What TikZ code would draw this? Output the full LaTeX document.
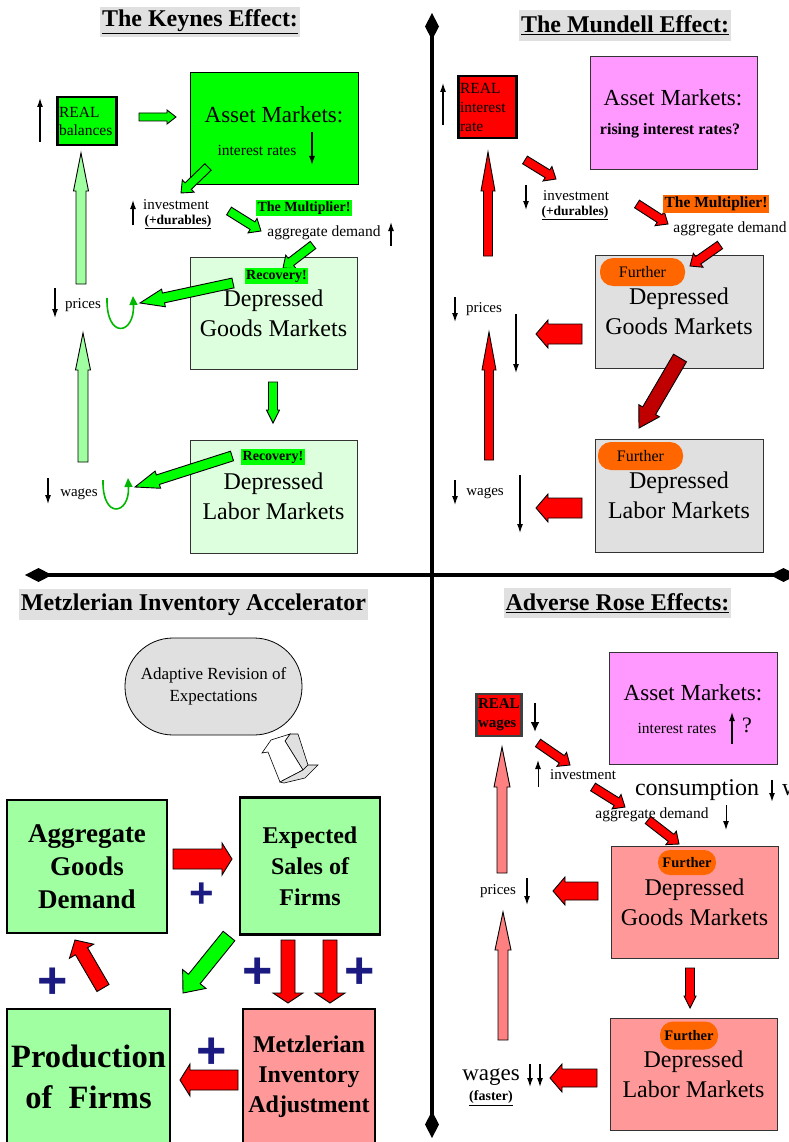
\documentclass[tikz,border=0pt]{standalone}
\usepackage{fontspec}
\setmainfont{Liberation Serif}
\setsansfont{Liberation Sans}
\usetikzlibrary{arrows.meta, calc, positioning}
\definecolor{keynesgreen}{HTML}{00FF00}
\definecolor{palegreen}{HTML}{DDFFDD}
\definecolor{softgreen}{HTML}{A0FFA0}
\definecolor{loopgreen}{HTML}{00B800}
\definecolor{deepred}{HTML}{C00000}
\definecolor{assetpink}{HTML}{FF99FF}
\definecolor{rosepink}{HTML}{FF9999}
\definecolor{salmon}{HTML}{FF8080}
\definecolor{furtherorange}{HTML}{FF6600}
\definecolor{titlegray}{HTML}{E0E0E0}
\definecolor{plusblue}{HTML}{1A1A80}

% block arrow: [style] {from} {to} {shaft half width} {head half width} {head length}
\newcommand{\blockarrow}[6][]{%
  \draw[barrow, #1] ($#2!#4!90:#3$) -- ($($#3!#6!#2$)!#4!-90:#2$) -- ($($#3!#6!#2$)!#5!-90:#2$) -- #3
    -- ($($#3!#6!#2$)!#5!90:#2$) -- ($($#3!#6!#2$)!#4!90:#2$) -- ($#2!#4!-90:#3$) -- cycle;}

\begin{document}
\begin{tikzpicture}[x=1pt, y=-1pt,
  heading/.style={fill=titlegray, inner xsep=2pt, inner ysep=0pt, minimum height=30pt, font=\fontsize{24}{28}\selectfont\bfseries},
  market/.style={draw=black!80, line width=1pt, minimum width=167pt, minimum height=112pt, inner sep=0pt, align=center, font=\fontsize{24}{30}\selectfont},
  realbox/.style={draw=black, line width=2.5pt, fill=red, inner xsep=1.5pt, inner ysep=0pt, align=left},
  metzbox/.style={draw=black, line width=2.5pt, fill=softgreen, inner sep=0pt, align=center},
  flag/.style={inner xsep=1.5pt, inner ysep=1.5pt, font=\fontsize{14}{16}\selectfont\bfseries},
  further/.style={fill=furtherorange, rounded corners=13pt, minimum width=85pt, minimum height=28pt, inner sep=0pt, font=\fontsize{16}{18}\selectfont},
  smalltext/.style={inner sep=0pt, font=\fontsize{15.5}{17}\selectfont},
  plussign/.style={text=plusblue, inner sep=0pt, font=\fontsize{52}{52}\selectfont\sffamily\bfseries},
  trend/.style={line width=1.2pt, -{Latex[length=9pt,width=6pt]}},
  barrow/.style={draw=black, line width=0.9pt},
  loopback/.style={draw=loopgreen, line width=1.6pt, -{Triangle[length=9pt,width=8pt]}},
  quadaxis/.style={line width=4pt, {Diamond[length=27pt,width=14pt]}-{Diamond[length=27pt,width=14pt]}}]
\useasboundingbox (0,0) rectangle (788,1142);

% quadrant axes
\coordinate (axtop) at (432,13);
\coordinate (axbot) at (432,1138);
\coordinate (axleft) at (25,575);
\coordinate (axright) at (797,575);
\draw[quadaxis] (axtop) -- (axbot);
\draw[quadaxis] (axleft) -- (axright);

% Keynes effect
\node (keynesT) [heading] at (200,22) {\underline{The Keynes Effect:}};
\node (assetK) [market, draw=black, fill=keynesgreen, minimum width=168pt] at (274,129) {};
\node (goodsK) [market, fill=palegreen] at (273.5,313) {Depressed\\Goods Markets};
\node (laborK) [market, fill=palegreen, minimum height=113pt] at (273.5,496.5) {Depressed\\Labor Markets};
\node (realK) [realbox, fill=keynesgreen, text width=56pt, minimum height=48pt, font=\fontsize{15.5}{18}\selectfont] at (87,121) {REAL\\balances};
\node (assetKt) [inner sep=0pt, font=\fontsize{23}{27}\selectfont] at (274,115) {Asset Markets:};
\node (rateK) [smalltext] at (257,150) {interest rates};
\node (invK) [smalltext, font=\fontsize{15}{17}\selectfont] at (176,205) {investment};
\node (durK) [inner sep=0pt, font=\fontsize{13.5}{15}\selectfont\bfseries] at (178,222) {\underline{(+durables)}};
\node (adK) [smalltext] at (324,233) {aggregate demand};
\node (priceK) [smalltext, font=\fontsize{15}{17}\selectfont] at (83,305) {prices};
\node (wageK) [smalltext, font=\fontsize{15}{17}\selectfont] at (79,494) {wages};
\draw[trend] (40,142) -- (40,98);
\draw[trend] (312,132) -- (312,165);
\draw[trend] (133,225) -- (133,200);
\draw[trend] (391,246) -- (391,222);
\draw[trend] (55,288) -- (55,318);
\draw[trend] (48,478) -- (48,504);
\coordinate (k1s) at (139,117); \coordinate (k1e) at (176,117);
\coordinate (k2s) at (208,167); \coordinate (k2e) at (181,193);
\coordinate (k3s) at (229,211); \coordinate (k3e) at (261,231);
\coordinate (k4s) at (313,245); \coordinate (k4e) at (283,268);
\coordinate (k5s) at (233,283); \coordinate (k5e) at (140,303);
\coordinate (k6s) at (273,382); \coordinate (k6e) at (273,423);
\coordinate (k7s) at (232,456); \coordinate (k7e) at (135,487);
\coordinate (ku1s) at (81,284); \coordinate (ku1e) at (81,153);
\coordinate (ku2s) at (83,462); \coordinate (ku2e) at (83,333);
\blockarrow[fill=keynesgreen]{(k1s)}{(k1e)}{4pt}{7pt}{9pt}
\blockarrow[fill=keynesgreen]{(k2s)}{(k2e)}{4.5pt}{8.5pt}{10pt}
\blockarrow[fill=keynesgreen]{(k3s)}{(k3e)}{4.5pt}{8.5pt}{10pt}
\blockarrow[fill=keynesgreen]{(k4s)}{(k4e)}{4.5pt}{8.5pt}{10pt}
\blockarrow[fill=keynesgreen]{(k5s)}{(k5e)}{5pt}{9pt}{24pt}
\blockarrow[fill=keynesgreen]{(k6s)}{(k6e)}{4.5pt}{6.5pt}{13pt}
\blockarrow[fill=keynesgreen]{(k7s)}{(k7e)}{5pt}{9pt}{24pt}
\blockarrow[fill=softgreen]{(ku1s)}{(ku1e)}{5pt}{7.5pt}{38pt}
\blockarrow[fill=softgreen]{(ku2s)}{(ku2e)}{5pt}{7.5pt}{37pt}
\draw[loopback] (107,298) .. controls (106,340) and (135,335) .. (133,296);
\draw[loopback] (103,480) .. controls (102,520) and (130,515) .. (128,478);
\node (multK) [flag, fill=keynesgreen] at (304,208) {The Multiplier!};
\node (recG) [flag, fill=keynesgreen] at (276.5,276) {Recovery!};
\node (recL) [flag, fill=keynesgreen] at (273,457) {Recovery!};

% Mundell effect
\node (mundellT) [heading, minimum height=31pt] at (625,25.5) {\underline{The Mundell Effect:}};
\node (assetM) [market, fill=assetpink, minimum height=113pt] at (673.5,113.5) {};
\node (goodsM) [market, fill=titlegray, minimum width=168pt, minimum height=113pt] at (679,311.5) {Depressed\\Goods Markets};
\node (laborM) [market, fill=titlegray, minimum width=168pt, minimum height=113pt] at (679,495.5) {Depressed\\Labor Markets};
\node (realM) [realbox, text width=55pt, minimum height=62pt, font=\fontsize{15.5}{19}\selectfont] at (487.5,107) {REAL\\interest\\rate};
\node (assetMt) [inner sep=0pt, font=\fontsize{23}{27}\selectfont] at (673,98) {Asset Markets:};
\node (riseM) [inner sep=0pt, font=\fontsize{16}{18}\selectfont\bfseries] at (670,131) {rising interest rates?};
\node (invM) [smalltext, font=\fontsize{15}{17}\selectfont] at (576,196) {investment};
\node (durM) [inner sep=0pt, font=\fontsize{13.5}{15}\selectfont\bfseries] at (575,213) {\underline{(+durables)}};
\node (adM) [smalltext] at (730,229) {aggregate demand};
\node (priceM) [smalltext, font=\fontsize{15}{17}\selectfont] at (484,309) {prices};
\node (wageM) [smalltext, font=\fontsize{15}{17}\selectfont] at (485,493) {wages};
\draw[trend] (443,125) -- (443,83);
\draw[trend] (526,185) -- (526,210);
\draw[trend] (455,297) -- (455,322);
\draw[trend] (516,314) -- (516,373);
\draw[trend] (455,480) -- (455,505);
\draw[trend] (520,475) -- (520,533);
\coordinate (m1s) at (525,160); \coordinate (m1e) at (556,179);
\coordinate (m2s) at (637,204); \coordinate (m2e) at (668,224);
\coordinate (m3s) at (720,245); \coordinate (m3e) at (690,266);
\coordinate (m4s) at (582,334); \coordinate (m4e) at (536,334);
\coordinate (m5s) at (582,508); \coordinate (m5e) at (536,508);
\coordinate (m6s) at (680,358); \coordinate (m6e) at (639,428);
\coordinate (mu1s) at (488,256); \coordinate (mu1e) at (488,152);
\coordinate (mu2s) at (489,460); \coordinate (mu2e) at (489,332);
\blockarrow[fill=red]{(m1s)}{(m1e)}{4.5pt}{8.5pt}{10pt}
\blockarrow[fill=red]{(m2s)}{(m2e)}{4.5pt}{8.5pt}{10pt}
\blockarrow[fill=red]{(m3s)}{(m3e)}{4.5pt}{8.5pt}{10pt}
\blockarrow[fill=red]{(m4s)}{(m4e)}{10pt}{14pt}{12pt}
\blockarrow[fill=red]{(m5s)}{(m5e)}{10pt}{14pt}{12pt}
\blockarrow[fill=deepred]{(m6s)}{(m6e)}{7.5pt}{12pt}{20pt}
\blockarrow[fill=red]{(mu1s)}{(mu1e)}{4.5pt}{7pt}{39pt}
\blockarrow[fill=red]{(mu2s)}{(mu2e)}{4.5pt}{7pt}{38pt}
\node (multM) [flag, fill=furtherorange, font=\fontsize{15.5}{17}\selectfont\bfseries] at (716,204) {The Multiplier!};
\node (furGM) [further] at (642.5,272) {Further};
\node (furLM) [further] at (640.5,456) {Further};

% Metzlerian inventory accelerator
\node (metzT) [heading, fill=titlegray, minimum height=31pt] at (193.5,604.5) {Metzlerian Inventory Accelerator};
\node (adapt) [draw=black, line width=0.8pt, fill=titlegray, rounded corners=48pt, minimum width=177pt, minimum height=97pt, inner sep=0pt, align=center, font=\fontsize{17}{22}\selectfont] at (213.5,686.5) {Adaptive Revision of\\Expectations};
\node (aggGD) [metzbox, minimum width=160pt, minimum height=133pt, font=\fontsize{27}{33}\selectfont\bfseries] at (87,866.5) {Aggregate\\Goods\\Demand};
\node (expS) [metzbox, minimum width=140pt, minimum height=137pt, font=\fontsize{24}{31}\selectfont\bfseries] at (310,866) {Expected\\Sales of\\Firms};
\node (prodF) [metzbox, minimum width=163pt, minimum height=136pt, font=\fontsize{32.5}{41}\selectfont\bfseries] at (88.5,1077) {Production\\of~~Firms};
\node (metzI) [metzbox, fill=rosepink, minimum width=132pt, minimum height=136pt, font=\fontsize{24}{30}\selectfont\bfseries] at (309,1077) {Metzlerian\\Inventory\\Adjustment};
% hollow 3D arrow below the expectations bubble
\filldraw[fill=titlegray, draw=black, line width=0.6pt] (285,741) -- (290,734) -- (298,734) -- (308,765) -- (303,770) -- cycle;
\filldraw[fill=white, draw=black, line width=0.6pt] (262,753) -- (271,740) -- (290,734) -- (285,741) -- (303,770) -- (280,782) -- (268,752) -- cycle;
\filldraw[fill=titlegray, draw=black, line width=0.6pt] (280,782) -- (303,770) -- (308,765) -- (318,765) -- (305,778) -- (284,783) -- cycle;
\coordinate (z1s) at (173,859); \coordinate (z1e) at (232,859);
\coordinate (z2s) at (229,936); \coordinate (z2e) at (183,993);
\coordinate (z3s) at (103,988); \coordinate (z3e) at (75,940);
\coordinate (z4s) at (288,940); \coordinate (z4e) at (288,1003);
\coordinate (z5s) at (330,940); \coordinate (z5e) at (330,1003);
\coordinate (z6s) at (238,1080); \coordinate (z6e) at (180,1080);
\blockarrow[fill=red]{(z1s)}{(z1e)}{10pt}{16pt}{10pt}
\blockarrow[fill=keynesgreen]{(z2s)}{(z2e)}{7.5pt}{15pt}{18pt}
\blockarrow[fill=red]{(z3s)}{(z3e)}{7pt}{14pt}{13pt}
\blockarrow[fill=red]{(z4s)}{(z4e)}{7pt}{15pt}{10pt}
\blockarrow[fill=red]{(z5s)}{(z5e)}{7pt}{15pt}{10pt}
\blockarrow[fill=red]{(z6s)}{(z6e)}{10pt}{16pt}{10pt}
\node (plus1) [plussign, font=\fontsize{42}{42}\selectfont\sffamily\bfseries] at (202,895) {+};
\node (plus2) [plussign] at (53,983) {+};
\node (plus3) [plussign] at (258,973) {+};
\node (plus4) [plussign] at (360,973) {+};
\node (plus5) [plussign] at (212,1053) {+};

% Adverse Rose effects
\node (roseT) [heading] at (617.5,603) {\underline{Adverse Rose Effects:}};
\node (assetR) [market, fill=assetpink, minimum width=168pt] at (693,708) {};
\node (goodsR) [market, fill=rosepink] at (694.5,902) {Depressed\\Goods Markets};
\node (laborR) [market, fill=rosepink] at (693.5,1074) {Depressed\\Labor Markets};
\node (realR) [realbox, draw=black!75, text width=42pt, minimum height=42pt, font=\fontsize{15}{19}\selectfont\bfseries] at (499,715) {REAL\\wages};
\node (assetRt) [inner sep=0pt, font=\fontsize{23}{27}\selectfont] at (693,693) {Asset Markets:};
\node (rateR) [smalltext] at (677,728) {interest rates};
\node (askR) [inner sep=0pt, font=\fontsize{22}{24}\selectfont] at (747,725) {?};
\node (invR) [smalltext, font=\fontsize{15}{17}\selectfont] at (583,775) {investment};
\node (consR) [inner sep=0pt, font=\fontsize{24}{28}\selectfont] at (697,790) {consumption};
\node (wealthR) [inner sep=0pt, anchor=west, font=\fontsize{24}{28}\selectfont] at (782,790) {w};
\node (adR) [smalltext] at (652,815) {aggregate demand};
\node (priceR) [smalltext, font=\fontsize{15}{17}\selectfont] at (498,891) {prices};
\node (wageR) [inner sep=0pt, font=\fontsize{23}{26}\selectfont] at (491,1077) {wages};
\node (fastR) [inner sep=0pt, font=\fontsize{14}{16}\selectfont\bfseries] at (491,1098) {\underline{(faster)}};
\draw[trend, line width=2.5pt, -{Latex[length=10pt,width=9pt]}] (535,703) -- (535,732);
\draw[trend, line width=1pt] (538,787) -- (538,760);
\draw[trend] (732,744) -- (732,712);
\draw[trend, line width=1.5pt] (772,780) -- (772,802);
\draw[trend, line width=1pt] (726,805) -- (726,830);
\draw[trend] (527,878) -- (527,905);
\draw[trend] (530,1064) -- (530,1087);
\draw[trend] (540,1064) -- (540,1087);
\coordinate (r1s) at (538,743); \coordinate (r1e) at (570,765);
\coordinate (r2s) at (593,787); \coordinate (r2e) at (625,807);
\coordinate (r3s) at (648,820); \coordinate (r3e) at (679,844);
\coordinate (r4s) at (598,891); \coordinate (r4e) at (553,891);
\coordinate (r5s) at (597,1078); \coordinate (r5e) at (550,1078);
\coordinate (r6s) at (690,968); \coordinate (r6e) at (690,1008);
\coordinate (ru1s) at (502,873); \coordinate (ru1e) at (502,747);
\coordinate (ru2s) at (503,1040); \coordinate (ru2e) at (503,912);
\blockarrow[fill=red]{(r1s)}{(r1e)}{4.5pt}{8.5pt}{10pt}
\blockarrow[fill=red]{(r2s)}{(r2e)}{4.5pt}{8.5pt}{10pt}
\blockarrow[fill=red]{(r3s)}{(r3e)}{4.5pt}{8.5pt}{10pt}
\blockarrow[fill=red]{(r4s)}{(r4e)}{9pt}{14pt}{12pt}
\blockarrow[fill=red]{(r5s)}{(r5e)}{9pt}{14pt}{12pt}
\blockarrow[fill=red]{(r6s)}{(r6e)}{4.5pt}{6pt}{12pt}
\blockarrow[fill=salmon]{(ru1s)}{(ru1e)}{5pt}{8pt}{40pt}
\blockarrow[fill=salmon]{(ru2s)}{(ru2e)}{5pt}{8pt}{38pt}
\node (furGR) [further, minimum width=58pt, minimum height=25pt, rounded corners=12pt, font=\fontsize{14.5}{16}\selectfont\bfseries] at (687,862.5) {Further};
\node (furLR) [further, minimum width=58pt, minimum height=28pt, font=\fontsize{14.5}{16}\selectfont\bfseries] at (689,1035.5) {Further};
\end{tikzpicture}
\end{document}
